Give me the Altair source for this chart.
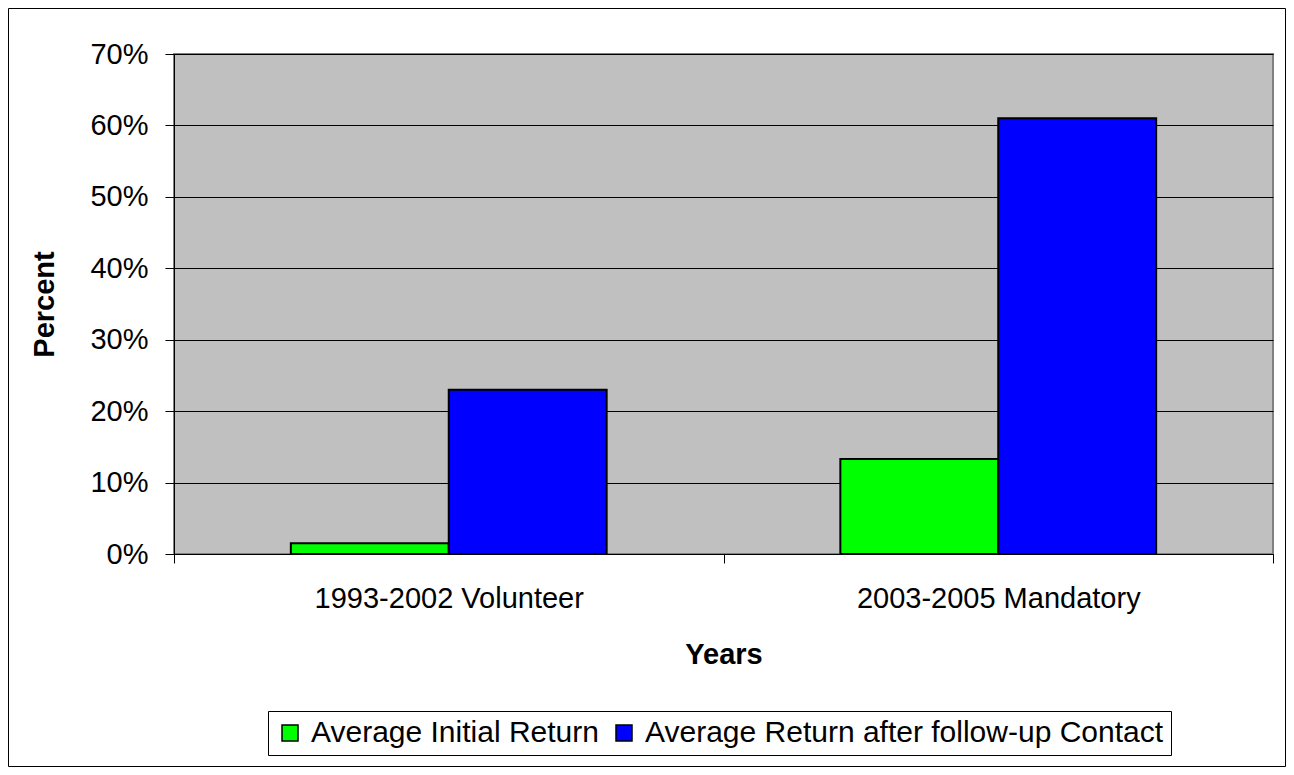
import altair as alt
import pandas as pd

categories = ["1993-2002 Volunteer", "2003-2005 Mandatory"]
series = ["Average Initial Return", "Average Return after follow-up Contact"]
initial_return = [0.015, 0.133]
followup_return = [0.23, 0.61]
colors = ["#00FF00", "#0000FF"]
y_ticks = [0, 0.1, 0.2, 0.3, 0.4, 0.5, 0.6, 0.7]

rows = []
for i, c in enumerate(categories):
    rows.append({"Years": c, "Series": series[0], "Value": initial_return[i]})
    rows.append({"Years": c, "Series": series[1], "Value": followup_return[i]})
df = pd.DataFrame(rows)

FONT = "Liberation Sans"

bars = alt.Chart(df).mark_bar(stroke="black", strokeWidth=2).encode(
    x=alt.X(
        "Years:N",
        sort=categories,
        title="Years",
        scale=alt.Scale(paddingInner=0, paddingOuter=0),
        axis=alt.Axis(
            labelAngle=0,
            tickBand="extent",
            grid=False,
            labelPadding=21,
            labelLimit=1000,
            titlePadding=27,
        ),
    ),
    xOffset=alt.XOffset("Series:N", sort=series,
                        scale=alt.Scale(paddingInner=0, paddingOuter=0.74)),
    y=alt.Y(
        "Value:Q",
        title="Percent",
        scale=alt.Scale(domain=[0, 0.7], nice=False),
        axis=alt.Axis(format=".0%", values=y_ticks, grid=True,
                      gridColor="black", gridWidth=1, gridOpacity=1,
                      labelPadding=17, titlePadding=30),
    ),
    color=alt.Color(
        "Series:N",
        sort=series,
        scale=alt.Scale(domain=series, range=colors),
        legend=alt.Legend(
            title=None,
            orient="none",
            legendX=94,
            legendY=657,
            direction="horizontal",
            symbolType="square",
            symbolSize=256,
            symbolStrokeColor="black",
            symbolStrokeWidth=1.5,
            labelFontSize=30,
            labelFont=FONT,
            labelColor="black",
            labelLimit=2000,
            labelOffset=6,
            columnPadding=10,
            strokeColor="black",
            fillColor="white",
            padding=7,
        ),
    ),
)

border = alt.Chart(pd.DataFrame({"a": [0]})).mark_rect(
    fillOpacity=0, stroke="black", strokeWidth=1
).encode(
    x=alt.value(-165.5), x2=alt.value(1111.5),
    y=alt.value(-45.5), y2=alt.value(712.5),
)

chart = alt.layer(border, bars).properties(
    width=1099,
    height=500,
    autosize=alt.AutoSizeParams(type="none"),
    padding={"left": 166, "top": 46, "right": 13, "bottom": 213},
    background="white",
).configure_view(
    fill="#C0C0C0", stroke="#808080", strokeWidth=2
).configure_axis(
    labelFont=FONT, titleFont=FONT,
    labelFontSize=29, titleFontSize=29,
    labelColor="black", titleColor="black",
    titleFontWeight="bold",
    domainColor="black", domainWidth=1,
    tickColor="black", tickSize=9, tickWidth=1,
)

chart.save("out.html", embed_options={"renderer": "svg", "actions": False})
